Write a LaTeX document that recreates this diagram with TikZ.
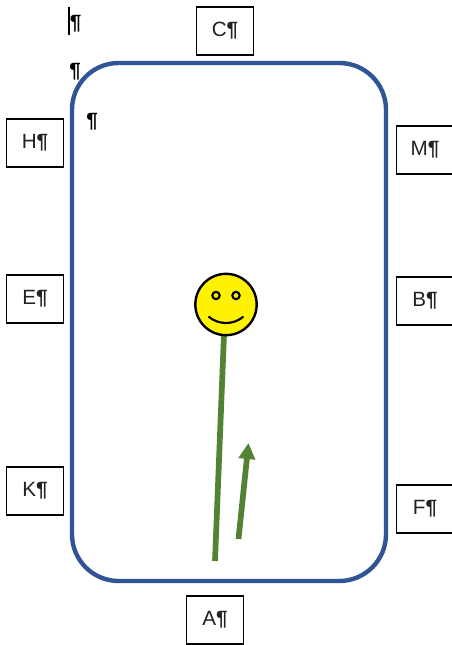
\documentclass[tikz,border=0pt]{standalone}
\usepackage{fontspec}
\setmainfont{Liberation Sans}
\usetikzlibrary{arrows.meta}
\definecolor{frameblue}{HTML}{2F5597}
\definecolor{stemgreen}{HTML}{548235}
\definecolor{inktext}{HTML}{222222}
\tikzset{
 labelbox/.style={draw=black,line width=1pt,fill=white,minimum width=42.75pt,minimum height=36pt,inner sep=0pt,text=inktext,font=\fontsize{15.5}{17}\selectfont},
 pilcrow/.style={inner sep=0pt,font=\fontsize{15.5}{17}\selectfont\bfseries,text=black},
 greenline/.style={stemgreen,line width=4.3pt},
 faceline/.style={black,line width=1.6pt}}
\begin{document}
\begin{tikzpicture}[x=0.75pt,y=-0.75pt]
\useasboundingbox (0,0) rectangle (451,645);
\draw[frameblue,line width=3.3pt,rounded corners=35pt] (72,63) rectangle (386,581);
\node[labelbox] (c) at (225,31) {C\textbf{¶}};
\node[labelbox] (h) at (35,143) {H\textbf{¶}};
\node[labelbox] (e) at (35,299) {E\textbf{¶}};
\node[labelbox] (k) at (35,491) {K\textbf{¶}};
\node[labelbox] (m) at (425,150) {M\textbf{¶}};
\node[labelbox] (b) at (425,301) {B\textbf{¶}};
\node[labelbox] (f) at (425,509) {F\textbf{¶}};
\node[labelbox] (a) at (215,620) {A\textbf{¶}};
\node[pilcrow] (p1) at (75.5,24) {¶};
\node[pilcrow] (p2) at (75,72) {¶};
\node[pilcrow] (p3) at (92,122) {¶};
\coordinate (cursortop) at (69,7);
\coordinate (cursorend) at (69,35);
\draw[black,line width=0.9pt] (cursortop) -- (cursorend);
\coordinate (stemtop) at (224,334);
\coordinate (stemend) at (215,561);
\draw[greenline] (stemtop) -- (stemend);
\coordinate (as) at (238.5,539);
\coordinate (ae) at (248.5,443);
\draw[greenline,-{Triangle[length=12pt,width=12pt]}] (as) -- (ae);
\node[draw=black,fill=yellow,line width=1.8pt,circle,minimum size=46pt,inner sep=0pt] (face) at (226,304.5) {};
\node[faceline,draw,circle,minimum size=5.5pt,inner sep=0pt] (eyel) at (216,295.5) {};
\node[faceline,draw,circle,minimum size=5.5pt,inner sep=0pt] (eyer) at (236,295.5) {};
\coordinate (smilel) at (209,317);
\coordinate (smiler) at (243,317);
\draw[faceline,line cap=round] (smilel) .. controls (219,325) and (233,325) .. (smiler);
\end{tikzpicture}
\end{document}
